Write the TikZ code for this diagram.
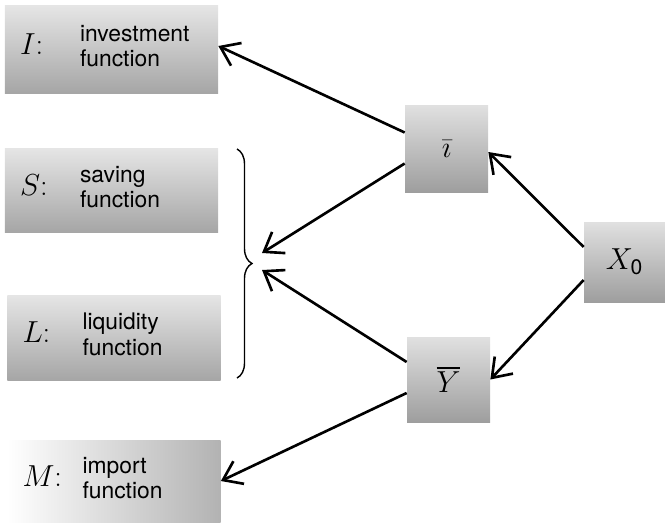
\documentclass[tikz,border=0pt]{standalone}
\usepackage{amsmath}
\usepackage{fontspec}
\setsansfont{TeX Gyre Heros}
\usepackage{tikz}
\usetikzlibrary{positioning, arrows.meta, decorations.pathreplacing}

\newcommand{\fnlines}[2]{{\sffamily\fontsize{13}{14.5}\selectfont\begin{tabular}{@{}l@{}}#1\\#2\end{tabular}}}

\begin{document}
\begin{tikzpicture}[
    fnbox/.style={rectangle, top color=black!10, bottom color=black!35, draw=none, minimum width=4.26cm, minimum height=1.7cm, text width=3.66cm, inner xsep=0.3cm, align=left, font=\LARGE},
    varbox/.style={rectangle, top color=black!12, bottom color=black!38, draw=none, minimum width=1.66cm, minimum height=1.72cm, font=\LARGE},
    arr/.style={-{Straight Barb[length=3.5mm, width=5mm]}, line width=1.5pt}
]
    \useasboundingbox (0,0) rectangle (13.3,-10.44);

    \node[fnbox, minimum height=1.76cm] (inv) at (2.23, -0.98) {\makebox[1.2cm][l]{$I$:}\fnlines{investment}{function}};
    \node[fnbox, minimum height=1.68cm] (sav) at (2.23, -3.80) {\makebox[1.2cm][l]{$S$:}\fnlines{saving}{function}};
    \node[fnbox] (liq) at (2.28, -6.75) {\makebox[1.2cm][l]{$L$:}\fnlines{liquidity}{function}};
    \node[fnbox, minimum height=1.64cm, left color=white, right color=black!30] (imp) at (2.28, -9.62) {\makebox[1.2cm][l]{$M$:}\fnlines{import}{function}};

    \node[varbox, minimum height=1.74cm] (ibar) at (8.93, -2.97) {$\bar{\imath}$};
    \node[varbox, minimum height=1.7cm] (ybar) at (8.97, -7.59) {$\overline{Y}$};
    \node[varbox, minimum width=1.62cm, minimum height=1.6cm] (x0) at (12.49, -5.24) {$X_{\textsf{0}}$};

    \draw[decorate, decoration={brace, amplitude=0.3cm}, line width=0.8pt] (4.74, -2.98) -- (4.74, -7.56) coordinate[midway] (brace);
    \coordinate (bru) at (5.24, -5.06);
    \coordinate (brl) at (5.24, -5.40);

    \draw[arr] ([yshift=0.32cm]ibar.west) -- ([yshift=0.06cm]inv.east);
    \draw[arr] ([yshift=-0.3cm]ibar.west) -- (bru);
    \draw[arr] ([yshift=0.35cm]ybar.west) -- (brl);
    \draw[arr] ([yshift=-0.27cm]ybar.west) -- (imp.east);
    \draw[arr] ([yshift=0.3cm]x0.west) -- ([yshift=-0.07cm]ibar.east);
    \draw[arr] ([yshift=-0.36cm]x0.west) -- (ybar.east);
\end{tikzpicture}
\end{document}
